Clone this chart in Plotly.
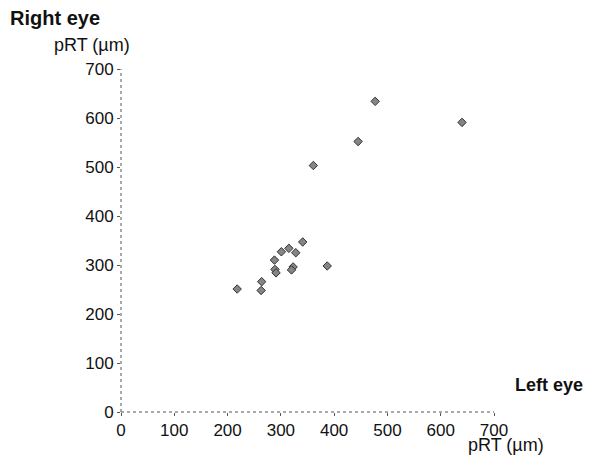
import plotly.graph_objects as go

# Data (pRT in µm)
left_eye_prt = [218, 264, 263, 288, 289, 291, 301, 315, 328, 341, 323, 320, 387, 361, 445, 477, 640]
right_eye_prt = [251, 266, 248, 310, 291, 284, 327, 334, 325, 347, 296, 290, 298, 503, 552, 634, 591]

tick_vals = [0, 100, 200, 300, 400, 500, 600, 700]

FONT = "Liberation Sans, Arial, Helvetica, sans-serif"

fig = go.Figure()
fig.add_trace(go.Scatter(
    x=left_eye_prt, y=right_eye_prt, mode="markers",
    marker=dict(symbol="diamond", size=6.5, color="#858585",
                line=dict(color="#333333", width=1)),
    showlegend=False, hoverinfo="x+y",
))

axis_common = dict(
    range=[0, 700], tickvals=tick_vals, ticks="outside", ticklen=3,
    tickcolor="#555", tickwidth=1, showgrid=False, zeroline=False,
    showline=False, tickfont=dict(family=FONT, size=17, color="#111"),
    fixedrange=True,
)
fig.update_xaxes(**axis_common)
fig.update_yaxes(**axis_common)

# dotted axis lines
fig.add_shape(type="line", xref="paper", yref="paper", x0=0, y0=0, x1=1, y1=0,
              line=dict(color="#555", width=1, dash="dot"))
fig.add_shape(type="line", xref="paper", yref="paper", x0=0, y0=0, x1=0, y1=1,
              line=dict(color="#555", width=1, dash="dot"))

ann = [
    dict(text="<b>Right eye</b>", x=-0.303, y=1.149, xanchor="left", yanchor="middle",
         font=dict(family=FONT, size=20, color="#111")),
    dict(text="pRT (µm)", x=0.03, y=1.069, xanchor="right", yanchor="middle",
         font=dict(family=FONT, size=18, color="#111")),
    dict(text="<b>Left eye</b>", x=1.052, y=0.079, xanchor="left", yanchor="middle",
         font=dict(family=FONT, size=18, color="#111")),
    dict(text="pRT (µm)", x=0.924, y=-0.095, xanchor="left", yanchor="middle",
         font=dict(family=FONT, size=18, color="#111")),
]
for a in ann:
    fig.add_annotation(xref="paper", yref="paper", showarrow=False, **a)

# page body has an 8px default margin, so the figure is shrunk/offset by 8px
fig.update_layout(
    width=585, height=454,
    margin=dict(l=113, r=99, t=61, b=50),
    paper_bgcolor="white", plot_bgcolor="white",
    font=dict(family=FONT, color="#111"),
)

fig.write_html("out.html")
